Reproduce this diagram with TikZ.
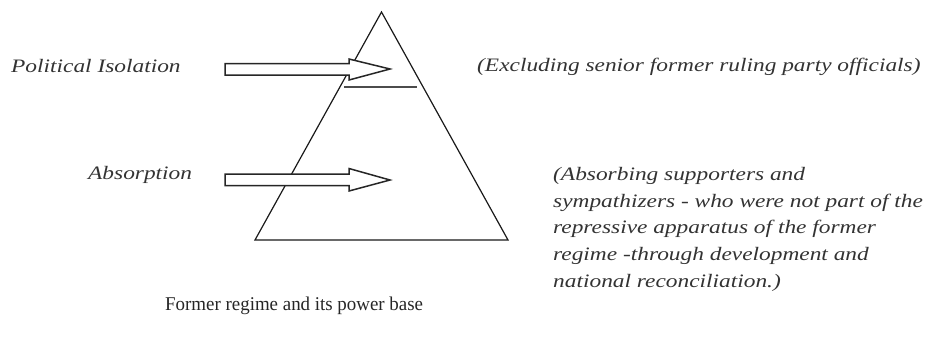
\documentclass[tikz,border=0pt]{standalone}
\usepackage{fontspec}
\setmainfont{Liberation Serif}
\newfontfamily\wideit{Liberation Serif}[FakeStretch=1.23,UprightFont=*-Italic]
\newfontfamily\narrowrm{Liberation Serif}[FakeStretch=0.97]
\begin{document}
\begin{tikzpicture}[x=1pt,y=-1pt,
  txt/.style={inner sep=0pt, text=black!80, font=\fontsize{19}{26.7}\selectfont\wideit},
  tri/.style={draw=black!90, line width=1.2pt},
  arr/.style={draw=black!85, fill=white, line width=1.5pt, line join=miter},
]
\useasboundingbox (0,0) rectangle (931,349);
% triangle
\coordinate (apex) at (381.5,12);
\coordinate (bl) at (255,240);
\coordinate (br) at (508,240);
\draw[tri] (apex) -- (bl) -- (br) -- cycle;
% separating line
\coordinate (s1) at (344,87);
\coordinate (s2) at (417,87);
\draw[draw=black!70, line width=1.1pt] (s1) -- (s2);
% arrows
\draw[arr] (225,63.5) -- (349,63.5) -- (349,59) -- (390,69) -- (349,80) -- (349,75) -- (225,75) -- cycle;
\draw[arr] (225,174) -- (349,174) -- (349,168.5) -- (390,180) -- (349,191) -- (349,185.5) -- (225,185.5) -- cycle;
% labels
\node[txt, anchor=west] (pi) at (11,66) {Political Isolation};
\node[txt, anchor=west] (ab) at (88,175) {Absorption};
\node[txt, anchor=west] (ex) at (477,67) {(Excluding senior former ruling party officials)};
\node[txt, anchor=north west, align=left] (desc) at (553,167) {(Absorbing supporters and\\sympathizers - who were not part of the\\repressive apparatus of the former\\regime -through development and\\national reconciliation.)};
\node[inner sep=0pt, text=black!85, font=\fontsize{19.5}{23}\selectfont\narrowrm, anchor=west] (fr) at (165,306) {Former regime and its power base};
\end{tikzpicture}
\end{document}
